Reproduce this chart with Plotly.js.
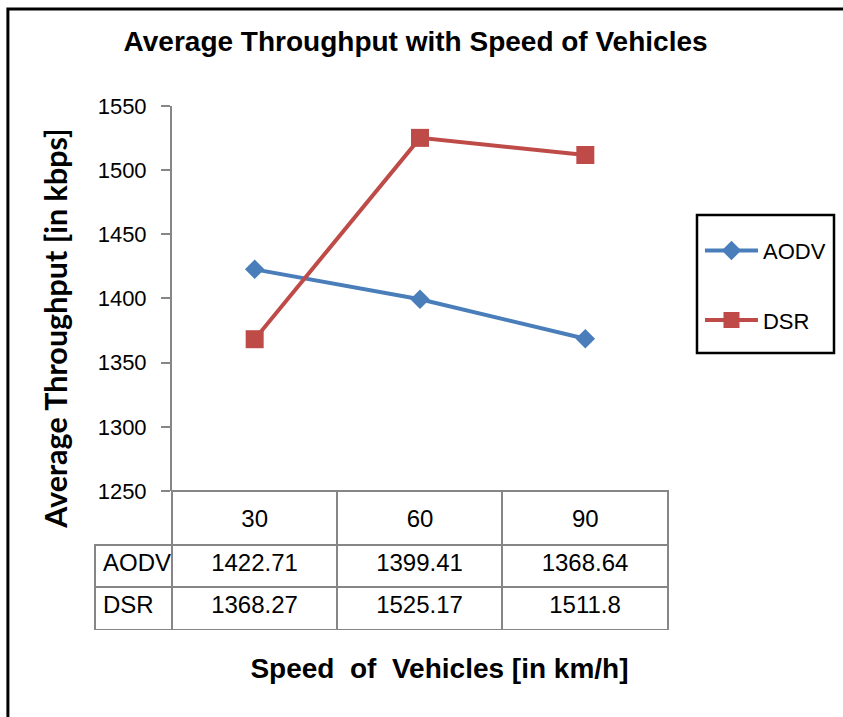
<!DOCTYPE html>
<html>
<head>
<meta charset="utf-8">
<script src="https://cdn.plot.ly/plotly-3.0.1.min.js"></script>
<style>html,body{margin:0;padding:0;background:#fff;}#chart{width:843px;height:717px;}</style>
</head>
<body>
<div id="chart"></div>
<script>
// ---- data ----
var speeds = ['30', '60', '90'];
var seriesNames = ['AODV', 'DSR'];
var aodv = [1422.71, 1399.41, 1368.64];
var dsr = [1368.27, 1525.17, 1511.8];
var yTicks = [1250, 1300, 1350, 1400, 1450, 1500, 1550];

var FONT = '"Liberation Sans", Arial, sans-serif';
var blue = '#4A7EBB', red = '#BE4B48', axisGray = '#868686';
var NB = '\u00a0';
var CLEAR = 'rgba(0,0,0,0)';

var traceA = {
  type: 'scatter', mode: 'lines+markers', name: seriesNames[0], legendgroup: 'a',
  x: speeds, y: aodv,
  line: {color: blue, width: 4},
  marker: {symbol: 'diamond', size: 15, color: blue}
};
var traceD = {
  type: 'scatter', mode: 'lines+markers', name: seriesNames[1], legendgroup: 'd',
  x: speeds, y: dsr,
  line: {color: red, width: 4},
  marker: {symbol: 'square', size: 18, color: red}
};

// data table below the category axis (the header row shows the axis' own category labels)
var colVals = [seriesNames.slice()];
for (var i = 0; i < speeds.length; i++) colVals.push([String(aodv[i]), String(dsr[i])]);
var table = {
  type: 'table',
  domain: {x: [0, 1], y: [0, 0.2653]},
  columnwidth: [77, 165, 165, 166],
  header: {
    values: ['', '', '', ''],
    height: 54,
    line: {color: [CLEAR, axisGray, axisGray, axisGray], width: 2},
    fill: {color: CLEAR},
    font: {family: FONT, size: 24, color: '#000'}
  },
  cells: {
    values: colVals,
    height: 42.5,
    align: ['left', 'center', 'center', 'center'],
    line: {color: axisGray, width: 2},
    fill: {color: 'white'},
    font: {family: FONT, size: 24, color: '#000'}
  }
};

var layout = {
  width: 843, height: 717,
  margin: {l: 95, r: 175, t: 106, b: 87, autoexpand: false},
  paper_bgcolor: 'white', plot_bgcolor: 'white',
  font: {family: FONT, color: '#000'},
  title: {
    text: '<b>Average Throughput with Speed of Vehicles</b>',
    font: {family: FONT, size: 28, color: '#000'},
    xref: 'container', x: 0.493, xanchor: 'center',
    yref: 'container', y: 0.942, yanchor: 'middle'
  },
  xaxis: {
    type: 'category', domain: [0.1344, 1], range: [-0.5, 2.5],
    showline: false, ticks: '',
    ticklabelstandoff: 11,
    tickfont: {family: FONT, size: 24, color: '#000'},
    showgrid: false, zeroline: false,
    title: {text: '<b>' + NB.repeat(5) + 'Speed' + NB + ' of' + NB + ' Vehicles [in km/h]</b>', font: {family: FONT, size: 28, color: '#000'}, standoff: 127}
  },
  yaxis: {
    domain: [0.2653, 1], range: [1250, 1550], tickvals: yTicks,
    showline: true, linecolor: axisGray, linewidth: 2,
    ticks: 'outside', ticklen: 9, tickwidth: 2, tickcolor: axisGray,
    ticklabelstandoff: 10,
    showgrid: false, zeroline: false,
    tickfont: {family: FONT, size: 22, color: '#000'},
    title: {text: '<b>Average Throughput [in kbps]' + NB.repeat(8) + '</b>', font: {family: 'Lato, "Open Sans", sans-serif', size: 30.5, color: '#000'}, standoff: 21}
  },
  showlegend: true,
  legend: {
    x: 1.0558, xanchor: 'left', y: 0.764, yanchor: 'top',
    traceorder: 'grouped', tracegroupgap: 38,
    bgcolor: CLEAR, borderwidth: 0,
    font: {family: FONT, size: 22, color: '#000'},
    itemwidth: 53
  },
  shapes: [
    {type: 'rect', xref: 'paper', yref: 'paper', x0: 1.0506, x1: 1.2897, y0: 0.5286, y1: 0.792,
     line: {color: '#000', width: 2.5}, fillcolor: CLEAR},
    {type: 'rect', xref: 'paper', yref: 'paper', x0: -0.152, x1: 1.5, y0: -0.3, y1: 1.1851,
     line: {color: '#000', width: 3}, fillcolor: CLEAR}
  ]
};

Plotly.newPlot('chart', [traceA, traceD, table], layout, {displayModeBar: false, staticPlot: true});
</script>
</body>
</html>
